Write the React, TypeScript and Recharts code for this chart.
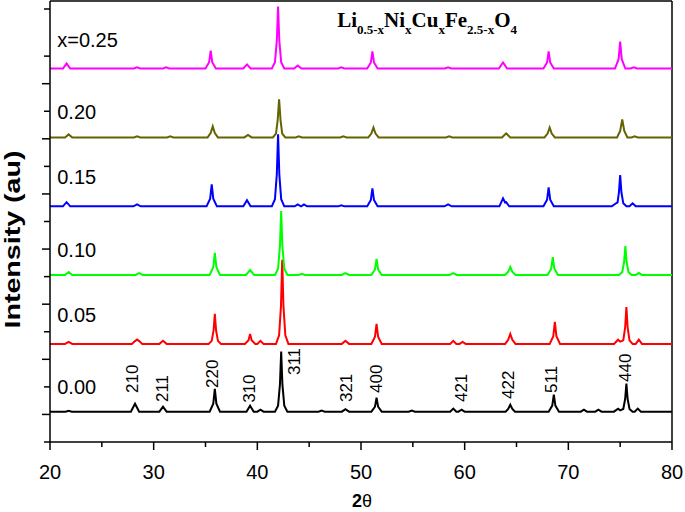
import React from 'react';
import { LineChart, Line, XAxis, YAxis, ReferenceLine, ReferenceDot } from 'recharts';

// Sample compositions (x values) and trace colours
const samples = ['0.00', '0.05', '0.10', '0.15', '0.20', '0.25'];
const sampleLabels = ['0.00', '0.05', '0.10', '0.15', '0.20', 'x=0.25'];
const colors = ['#000000', '#ff0000', '#00ff00', '#0000ff', '#646400', '#ff00ff'];
// vertical offsets of each stacked pattern (intensity units)
const offsets = [110, 356, 606, 855, 1105, 1355];
// label heights of sample names (intensity units)
const labelY = [200, 461, 697, 962, 1197, 1459];

// [2theta, intensity above baseline]
const s000: number[][] = [
  [20, 0], [21.5, 0], [21.8, 3], [22.1, 0],
  [27.8, 0], [28.2, 29], [28.6, 0],
  [30.55, 0], [30.9, 18], [31.25, 0],
  [35.4, 0], [35.75, 29], [35.9, 83], [36.05, 29], [36.4, 0],
  [38.95, 0], [39.3, 22], [39.65, 0],
  [40.0, 0], [40.3, 7], [40.6, 0],
  [41.7, 0], [42.0, 22], [42.18, 98], [42.3, 218], [42.42, 98], [42.6, 22], [42.9, 0],
  [45.9, 0], [46.2, 4], [46.5, 0],
  [48.15, 0], [48.5, 9], [48.85, 0],
  [51.0, 0], [51.35, 18], [51.5, 51], [51.65, 18], [52.0, 0],
  [54.6, 0], [54.9, 4], [55.2, 0],
  [58.6, 0], [58.9, 11], [59.2, 0],
  [59.4, 0], [59.7, 7], [60.0, 0],
  [63.95, 0], [64.2, 10], [64.4, 25], [64.6, 10], [64.85, 0],
  [68.1, 0], [68.45, 22], [68.6, 62], [68.75, 22], [69.1, 0],
  [71.2, 0], [71.5, 7], [71.8, 0],
  [72.6, 0], [72.9, 7], [73.2, 0],
  [74.4, 0], [74.8, 11], [75.0, 5], [75.3, 10], [75.48, 46], [75.6, 102], [75.72, 46], [75.9, 10], [76.2, 0],
  [76.4, 0], [76.7, 11], [77.0, 0],
  [80, 0],
];
const s005: number[][] = [
  [20, 0], [21.45, 0], [21.8, 7], [22.15, 0],
  [27.9, 0], [28.2, 10], [28.4, 16], [28.6, 10], [28.9, 0],
  [30.55, 0], [30.9, 11], [31.25, 0],
  [35.3, 0], [35.6, 11], [35.78, 49], [35.9, 109], [36.02, 49], [36.2, 11], [36.5, 0],
  [38.8, 0], [39.15, 13], [39.3, 36], [39.45, 13], [39.8, 0],
  [40.0, 0], [40.3, 11], [40.6, 0],
  [41.8, 0], [42.1, 31], [42.28, 137], [42.4, 305], [42.52, 137], [42.7, 31], [43.0, 0],
  [48.15, 0], [48.5, 11], [48.85, 0],
  [51.0, 0], [51.35, 26], [51.5, 73], [51.65, 26], [52.0, 0],
  [58.6, 0], [58.9, 11], [59.2, 0],
  [59.5, 0], [59.8, 7], [60.1, 0],
  [63.9, 0], [64.2, 15], [64.4, 36], [64.6, 15], [64.9, 0],
  [68.2, 0], [68.55, 28], [68.7, 80], [68.85, 28], [69.2, 0],
  [74.4, 0], [74.8, 15], [75.0, 8], [75.3, 13], [75.48, 60], [75.6, 134], [75.72, 60], [75.9, 13], [76.2, 0],
  [76.5, 0], [76.8, 15], [77.1, 0],
  [80, 0],
];
const s010: number[][] = [
  [20, 0], [21.45, 0], [21.8, 11], [22.15, 0],
  [28.25, 0], [28.6, 7], [28.95, 0],
  [35.4, 0], [35.75, 28], [35.9, 80], [36.05, 28], [36.4, 0],
  [38.9, 0], [39.3, 18], [39.7, 0],
  [41.7, 0], [42.0, 23], [42.18, 104], [42.3, 232], [42.42, 104], [42.6, 23], [42.9, 0],
  [44.0, 0], [44.3, 4], [44.6, 0],
  [48.15, 0], [48.5, 7], [48.85, 0],
  [51.0, 0], [51.35, 20], [51.5, 58], [51.65, 20], [52.0, 0],
  [58.55, 0], [58.9, 7], [59.25, 0],
  [63.9, 0], [64.2, 12], [64.4, 29], [64.6, 12], [64.9, 0],
  [68.0, 0], [68.35, 23], [68.5, 65], [68.65, 23], [69.0, 0],
  [74.9, 0], [75.2, 11], [75.38, 47], [75.5, 105], [75.62, 47], [75.8, 11], [76.1, 0],
  [76.5, 0], [76.8, 7], [77.1, 0],
  [80, 0],
];
const s015: number[][] = [
  [20, 0], [21.25, 0], [21.6, 15], [21.95, 0],
  [28.05, 0], [28.4, 7], [28.75, 0],
  [35.1, 0], [35.45, 28], [35.6, 80], [35.75, 28], [36.1, 0],
  [38.65, 0], [39.0, 22], [39.35, 0],
  [41.4, 0], [41.7, 26], [41.88, 117], [42.0, 261], [42.12, 117], [42.3, 26], [42.6, 0],
  [43.6, 0], [43.9, 7], [44.2, 0],
  [44.25, 0], [44.5, 7], [44.8, 0],
  [47.8, 0], [48.1, 4], [48.4, 0],
  [50.6, 0], [50.95, 23], [51.1, 65], [51.25, 23], [51.6, 0],
  [58.05, 0], [58.4, 7], [58.75, 0],
  [63.35, 0], [63.7, 29], [63.9, 14], [64.0, 15], [64.3, 0],
  [67.6, 0], [67.95, 24], [68.1, 69], [68.25, 24], [68.6, 0],
  [74.2, 0], [74.6, 11], [74.75, 14], [74.88, 51], [75.0, 113], [75.12, 51], [75.3, 11], [75.6, 0],
  [75.9, 0], [76.2, 11], [76.5, 0],
  [80, 0],
];
const s020: number[][] = [
  [20, 0], [21.45, 0], [21.8, 11], [22.15, 0],
  [28.1, 0], [28.4, 4], [28.7, 0],
  [31.3, 0], [31.6, 4], [31.9, 0],
  [35.2, 0], [35.5, 16], [35.7, 40], [35.9, 16], [36.2, 0],
  [38.75, 0], [39.1, 9], [39.45, 0],
  [41.5, 0], [41.8, 14], [41.96, 62], [42.1, 138], [42.24, 62], [42.4, 14], [42.7, 0],
  [43.7, 0], [44.0, 4], [44.3, 0],
  [48.0, 0], [48.3, 4], [48.6, 0],
  [50.7, 0], [51.0, 14], [51.2, 36], [51.4, 14], [51.7, 0],
  [58.2, 0], [58.5, 4], [58.8, 0],
  [63.6, 0], [64.0, 15], [64.4, 0],
  [67.7, 0], [68.0, 14], [68.2, 36], [68.4, 14], [68.7, 0],
  [74.7, 0], [75.0, 24], [75.2, 65], [75.4, 24], [75.7, 0],
  [76.1, 0], [76.4, 4], [76.7, 0],
  [80, 0],
];
const s025: number[][] = [
  [20, 0], [21.25, 0], [21.6, 18], [21.95, 0],
  [28.1, 0], [28.4, 4], [28.7, 0],
  [30.9, 0], [31.2, 4], [31.5, 0],
  [35.0, 0], [35.35, 23], [35.5, 65], [35.65, 23], [36.0, 0],
  [38.65, 0], [39.0, 15], [39.35, 0],
  [41.4, 0], [41.7, 23], [41.88, 101], [42.0, 225], [42.12, 101], [42.3, 23], [42.6, 0],
  [43.55, 0], [43.9, 11], [44.25, 0],
  [47.8, 0], [48.1, 4], [48.4, 0],
  [50.6, 0], [50.95, 22], [51.1, 62], [51.25, 22], [51.6, 0],
  [58.1, 0], [58.4, 4], [58.7, 0],
  [63.3, 0], [63.7, 22], [64.1, 0],
  [67.6, 0], [67.95, 22], [68.1, 62], [68.25, 22], [68.6, 0],
  [74.5, 0], [74.85, 34], [75.0, 98], [75.15, 34], [75.5, 0],
  [76.0, 0], [76.3, 4], [76.6, 0],
  [80, 0],
];
const patterns = [s000, s005, s010, s015, s020, s025];

// Miller index labels: [2theta, height of label start, text]
const hklPos = [28.0, 30.9, 35.7, 39.2, 43.6, 48.6, 51.5, 59.7, 64.2, 68.4, 75.5];
const hklY = [178, 145, 196, 142, 243, 145, 178, 145, 156, 178, 218];
const hklText = ['210', '211', '220', '310', '311', '321', '400', '421', '422', '511', '440'];

const xTicks = [20, 25, 30, 35, 40, 45, 50, 55, 60, 65, 70, 75, 80];
const yTicks = [0, 100, 200, 300, 400, 500, 600, 700, 800, 900, 1000, 1100, 1200, 1300, 1400, 1500, 1600];

const SANS = 'Liberation Sans, Arial, Helvetica, sans-serif';
const SERIF = 'Liberation Serif, Times New Roman, serif';

const series = patterns.map((p, i) => p.map(([x, y]) => ({ x, y: y + offsets[i] })));

const XTick = (props: any) => {
  const { x, y, payload } = props;
  const major = payload.value % 10 === 0;
  return (
    <g>
      <line x1={x} x2={x} y1={y} y2={y + (major ? 8 : 5)} stroke="#000" strokeWidth={1.5} />
      {major && (
        <text x={x} y={y + 30} textAnchor="middle" dominantBaseline="central" fontSize={20} fontFamily={SANS} fill="#000">
          {payload.value}
        </text>
      )}
    </g>
  );
};

const YTick = (props: any) => {
  const { x, y, payload } = props;
  const long = (payload.value / 100) % 2 === 1;
  return <line x1={x - (long ? 8 : 6)} x2={x} y1={y} y2={y} stroke="#000" strokeWidth={1.5} />;
};

const XLabel = (props: any) => {
  const vb = props.viewBox;
  return (
    <text x={vb.x + vb.width / 2 + 1} y={vb.y + 65} textAnchor="middle" fontSize={18} fontFamily={SANS} fill="#000">
      <tspan fontWeight="bold">2</tspan>
      <tspan>θ</tspan>
    </text>
  );
};

const YLabel = (props: any) => {
  const vb = props.viewBox;
  const cx = 12;
  const cy = vb.y + vb.height / 2 + 18;
  return (
    <text x={cx} y={cy} transform={`rotate(-90 ${cx} ${cy})`} textAnchor="middle" dominantBaseline="central" fontSize={22} fontWeight="bold" fontFamily={SANS} fill="#000" textLength={178} lengthAdjust="spacingAndGlyphs">
      Intensity (au)
    </text>
  );
};

export default function App() {
  return (
    <div style={{ position: 'absolute', left: 0, top: 0, background: '#fff' }}>
      <LineChart width={685} height={512} margin={{ top: 1, right: 13, left: 0, bottom: 0 }}>
        <XAxis
          type="number"
          dataKey="x"
          domain={[20, 80]}
          ticks={xTicks}
          allowDataOverflow
          height={70}
          tickSize={0}
          tickMargin={0}
          tick={<XTick />}
          axisLine={{ stroke: '#000', strokeWidth: 1.5 }}
          tickLine={false}
          label={<XLabel />}
        />
        <YAxis
          type="number"
          domain={[0, 1600]}
          ticks={yTicks}
          allowDataOverflow
          width={50}
          tickSize={0}
          tickMargin={0}
          tick={<YTick />}
          axisLine={{ stroke: '#000', strokeWidth: 1.5 }}
          tickLine={false}
          label={<YLabel />}
        />
        <ReferenceLine y={1600} stroke="#000" strokeWidth={1.5} />
        <ReferenceLine x={80} stroke="#000" strokeWidth={1.5} />
        {series.map((d, i) => (
          <Line
            key={samples[i]}
            data={d}
            dataKey="y"
            type="linear"
            stroke={colors[i]}
            strokeWidth={2}
            dot={false}
            activeDot={false}
            isAnimationActive={false}
          />
        ))}
        {sampleLabels.map((t, i) => (
          <ReferenceDot
            key={'lab' + i}
            x={20.7}
            y={labelY[i]}
            r={0}
            shape={(p: any) => (
              <text x={p.cx} y={p.cy} dominantBaseline="central" fontSize={20} fontFamily={SANS} fill="#000">
                {t}
              </text>
            )}
          />
        ))}
        {hklText.map((t, i) => (
          <ReferenceDot
            key={'hkl' + i}
            x={hklPos[i]}
            y={hklY[i]}
            r={0}
            shape={(p: any) => (
              <text x={p.cx} y={p.cy} transform={`rotate(-90 ${p.cx} ${p.cy})`} dominantBaseline="central" fontSize={17} fontFamily={SANS} fill="#000">
                {t}
              </text>
            )}
          />
        ))}
        <ReferenceDot
          x={47.7}
          y={1506}
          r={0}
          shape={(p: any) => (
            <text x={p.cx} y={p.cy} fontSize={21} fontWeight="bold" fontFamily={SERIF} fill="#000">
              <tspan>Li</tspan>
              <tspan fontSize={13} dy={7}>0.5-x</tspan>
              <tspan dy={-7}>Ni</tspan>
              <tspan fontSize={13} dy={7}>x</tspan>
              <tspan dy={-7}>Cu</tspan>
              <tspan fontSize={13} dy={7}>x</tspan>
              <tspan dy={-7}>Fe</tspan>
              <tspan fontSize={13} dy={7}>2.5-x</tspan>
              <tspan dy={-7}>O</tspan>
              <tspan fontSize={13} dy={7}>4</tspan>
            </text>
          )}
        />
      </LineChart>
    </div>
  );
}
